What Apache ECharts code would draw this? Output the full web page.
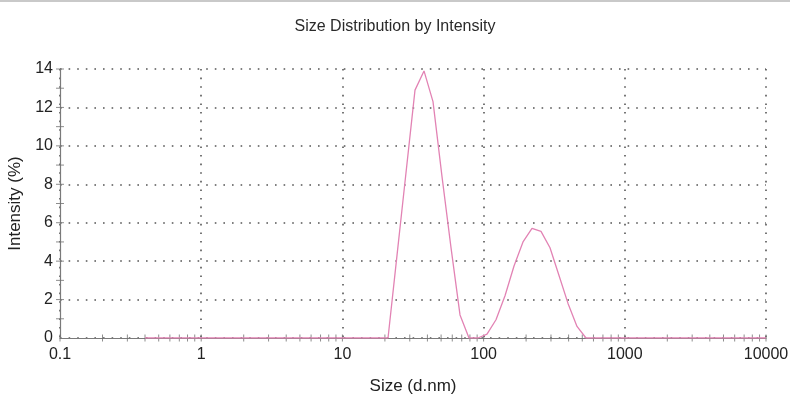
<!DOCTYPE html>
<html>
<head>
<meta charset="utf-8">
<script src="https://cdn.jsdelivr.net/npm/echarts@6/dist/echarts.min.js"></script>
<style>
  html, body { margin: 0; padding: 0; background: #fff; }
  #chart { width: 790px; height: 396px; }
</style>
</head>
<body>
<div id="chart"></div>
<script>
// size bins (d.nm) and intensity (%)
var sizes = [0.4, 21.04, 24.36, 28.21, 32.67, 37.84, 43.82, 50.75, 58.77, 68.06, 78.82, 91.28, 105.7,
  122.4, 141.8, 164.2, 190.1, 220.2, 255.0, 295.3, 342.0, 396.1, 458.7, 531.2, 10000]
var intensity = [0, 0, 4.3, 8.6, 12.9, 13.9, 12.3, 8.4, 4.7, 1.2, 0, 0, 0.2,
  0.95, 2.2, 3.75, 5.0, 5.7, 5.55, 4.7, 3.25, 1.8, 0.6, 0, 0]

var xTickLabels = ['0.1', '1', '10', '100', '1000', '10000']
var decades = [0.1, 1, 10, 100, 1000]

// little cross ticks on the log axis: 2..9 inside each decade plus the decades
var xTicks = []
decades.forEach(function (d) {
  for (var m = 1; m <= 9; m++) xTicks.push([d * m, 0])
})
xTicks.push([10000, 0])
var yTicks = []
for (var k = 1; k <= 14; k++) yTicks.push([0.1, k])

var font = "'Liberation Sans', Arial, sans-serif"
var myChart = echarts.init(document.getElementById('chart'))
var option = {
  animation: false,
  backgroundColor: '#fff',
  graphic: [{
    type: 'rect',
    shape: { x: 0, y: 0, width: 790, height: 2 },
    style: { fill: '#c9c9c9' }
  }],
  title: {
    text: 'Size Distribution by Intensity',
    left: 'center',
    top: 14,
    textStyle: { fontFamily: font, fontSize: 16, fontWeight: 'normal', color: '#2a2a2a' }
  },
  grid: { left: 60, right: 24, top: 69, bottom: 58, containLabel: false, outerBoundsMode: 'none' },
  xAxis: {
    type: 'log',
    logBase: 10,
    min: 0.1,
    max: 10000,
    name: 'Size (d.nm)',
    nameLocation: 'middle',
    nameGap: 40,
    nameTextStyle: { fontFamily: font, fontSize: 17, color: '#222' },
    axisLine: { show: true, lineStyle: { color: '#7a7a7a', width: 1.2 } },
    axisTick: { show: false },
    axisLabel: {
      fontFamily: font,
      fontSize: 16,
      color: '#222',
      margin: 9,
      formatter: function (v) {
        return xTickLabels[Math.round(Math.log10(v)) + 1]
      }
    },
    splitLine: { show: true, lineStyle: { color: '#555', width: 1.6, type: [1.6, 7] } }
  },
  yAxis: {
    type: 'value',
    min: 0,
    max: 14,
    interval: 2,
    name: 'Intensity (%)',
    nameLocation: 'middle',
    nameGap: 34,
    nameTextStyle: { fontFamily: font, fontSize: 17, color: '#222' },
    axisLine: { show: true, lineStyle: { color: '#7a7a7a', width: 1.2 } },
    axisTick: { show: false },
    axisLabel: { fontFamily: font, fontSize: 16, color: '#222', margin: 7 },
    splitLine: { show: true, lineStyle: { color: '#555', width: 1.6, type: [1.6, 7] } }
  },
  series: [
    {
      name: 'ticksX',
      type: 'scatter',
      data: xTicks,
      symbol: 'rect',
      symbolSize: [1, 7],
      clip: false,
      silent: true,
      itemStyle: { color: '#707070' },
      z: 3
    },
    {
      name: 'ticksY',
      type: 'scatter',
      data: yTicks,
      symbol: 'rect',
      symbolSize: [8, 1],
      clip: false,
      silent: true,
      itemStyle: { color: '#707070' },
      z: 3
    },
    {
      name: 'Intensity',
      type: 'line',
      data: sizes.map(function (s, i) { return [s, intensity[i]] }),
      showSymbol: false,
      lineStyle: { color: '#e283b4', width: 1.3 },
      z: 4
    }
  ]
}
myChart.setOption(option)
</script>
</body>
</html>
